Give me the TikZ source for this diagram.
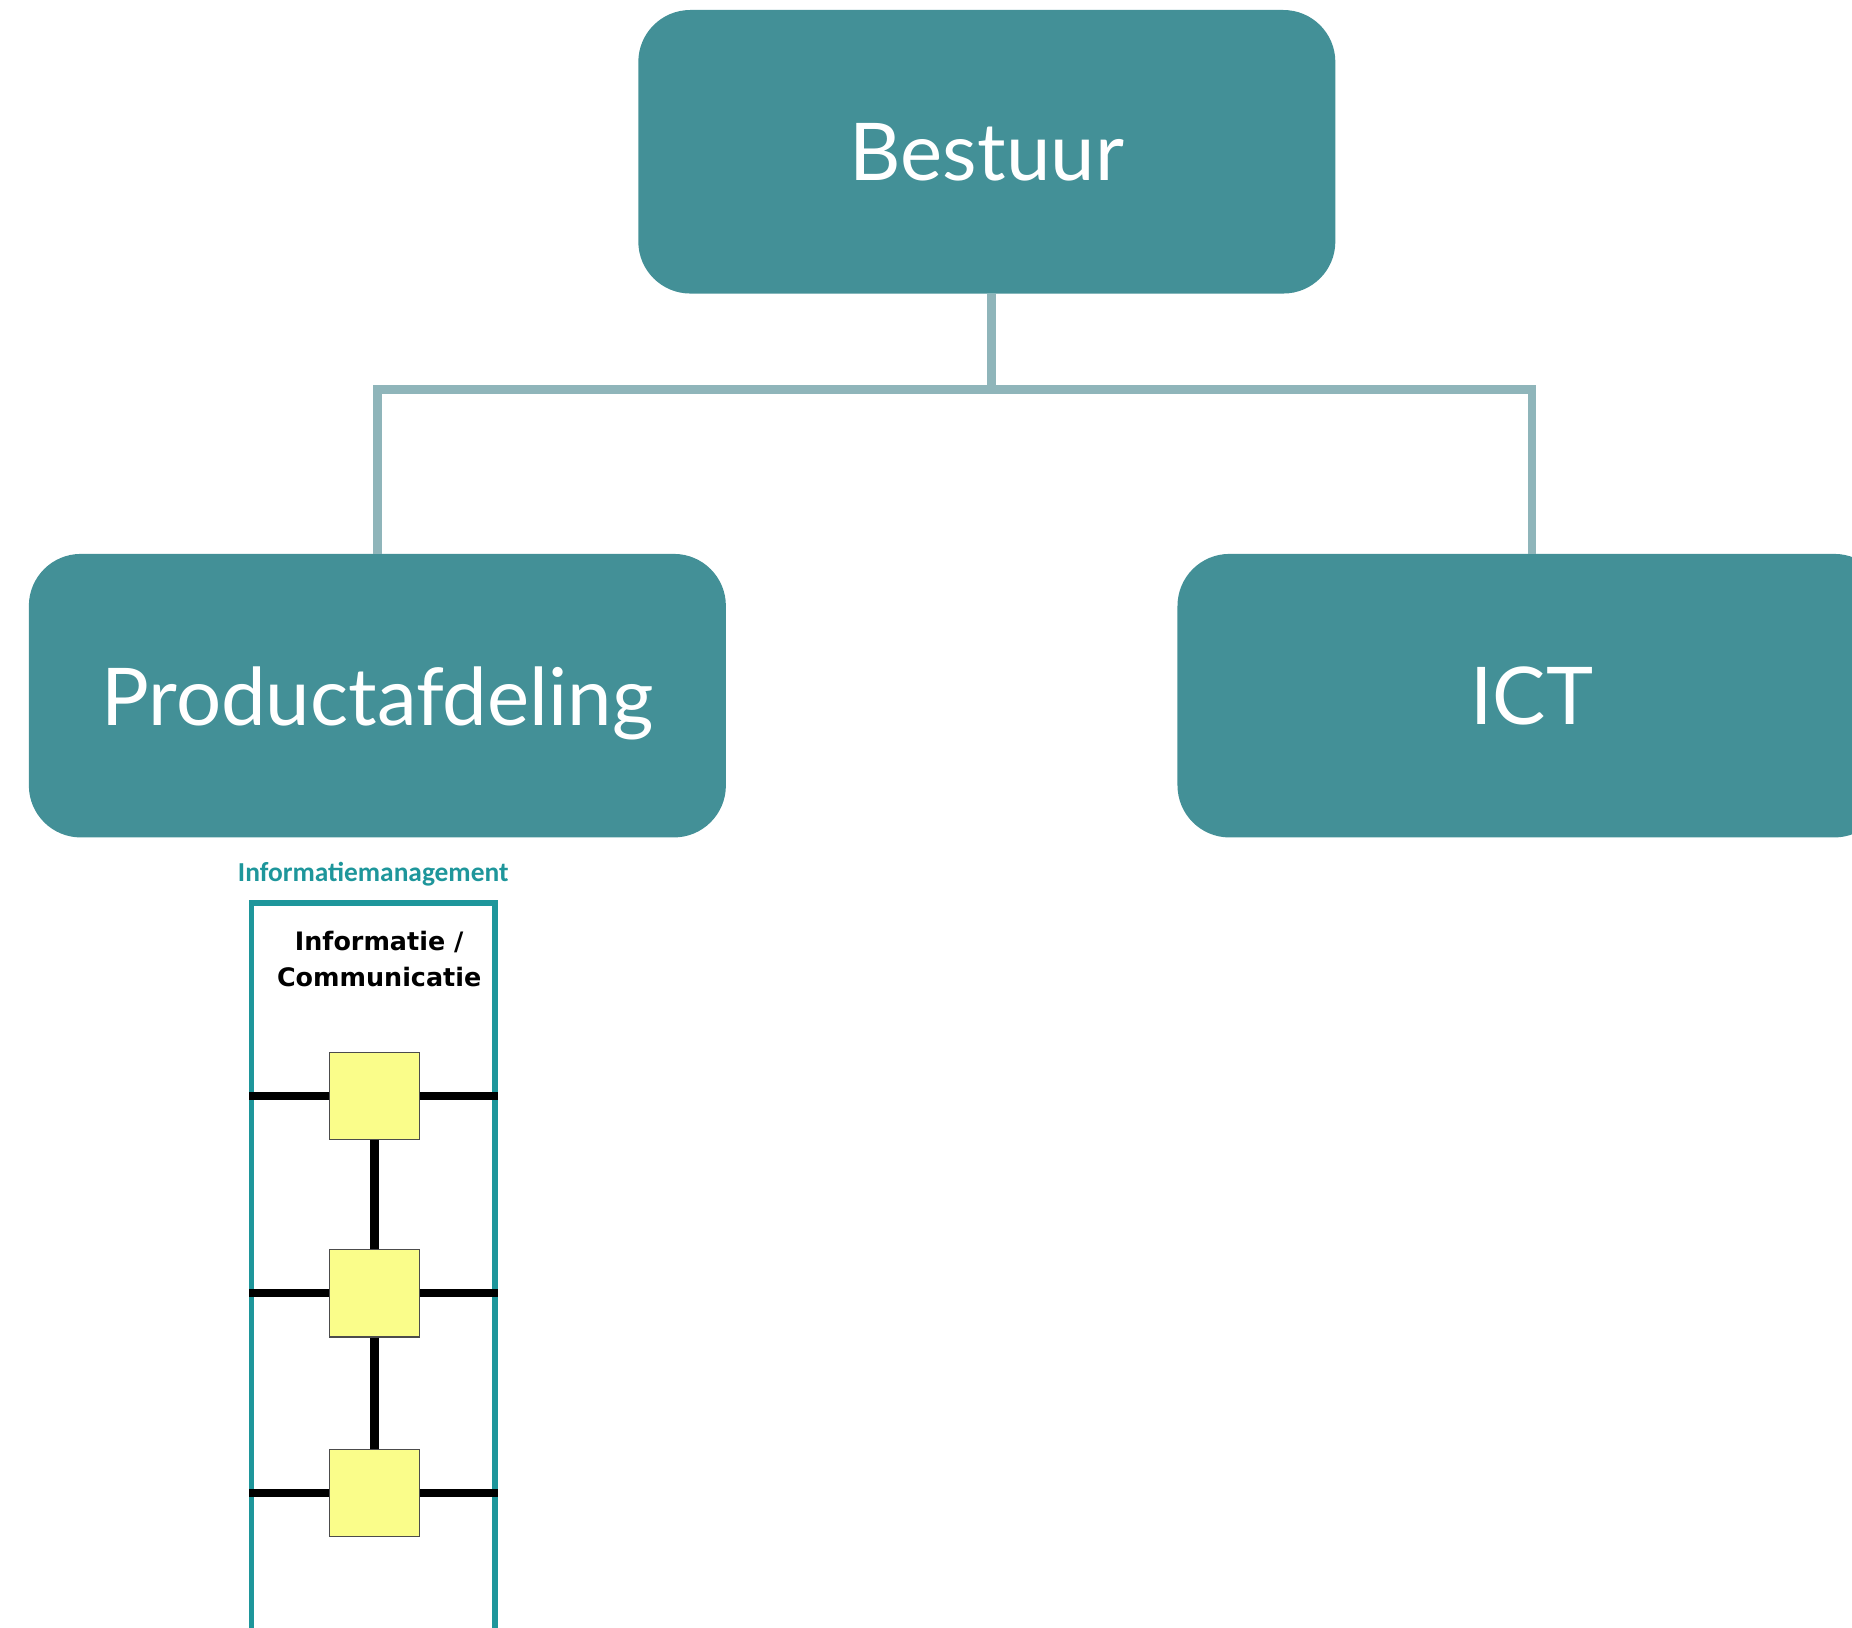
\documentclass[tikz,border=0pt]{standalone}
\usepackage{fontspec}
\setmainfont{Lato}
\newfontfamily\labelfont{Carlito}
\newfontfamily\colfont{DejaVu Sans}
\definecolor{boxteal}{RGB}{67,144,151}
\definecolor{linkgrey}{RGB}{143,181,186}
\definecolor{frameteal}{RGB}{30,150,155}
\definecolor{blockyellow}{RGB}{250,253,138}

\begin{document}
\begin{tikzpicture}[x=0.025cm,y=-0.025cm,
  orgbox/.style={fill=boxteal,text=white,rounded corners=1.1cm,
    minimum width=14.75cm,minimum height=6cm,text depth=0pt,
    font=\fontsize{48}{56}\selectfont},
  link/.style={linkgrey,line width=5pt},
  column/.style={draw=frameteal,line width=3.5pt,minimum width=5.15cm,
    minimum height=16.5cm,anchor=north},
  block/.style={draw=black!70,fill=blockyellow,line width=0.8pt,
    minimum width=1.9cm,minimum height=1.85cm,inner sep=0pt},
  bus/.style={black,line width=5pt}]

\useasboundingbox (0,0) rectangle (1568,1378);

\begin{scope}
\clip (0,0) rectangle (1568,1378);

\node[orgbox] (bestuur) at (835.5,128.5) {Bestuur};
\node[orgbox] (prod) at (319.5,589) {Productafdeling};
\node[orgbox,minimum width=15cm] (ict) at (1297,589) {ICT};

\draw[link] ([xshift=0.1cm]bestuur.south) -- ++(0,81) coordinate (split);
\draw[link] (prod.north) |- (split) -| (ict.north);

\node[text=frameteal,font=\labelfont\bfseries\fontsize{16.5}{19}\selectfont] (infolabel) at (316,740) {Informatiemanagement};
\node[column] (col) at (316,762) {};
\node[font=\colfont\bfseries\fontsize{15.3}{21.5}\selectfont,align=center] (coltitle) at (321,812) {Informatie /\\Communicatie};

\foreach \i/\y in {1/928,2/1095,3/1264}
  \node[block] (sq\i) at (317,\y) {};

\foreach \i in {1,2,3} {
  \draw[bus] (sq\i.west) -- (col.west |- sq\i.west);
  \draw[bus] (sq\i.east) -- (col.east |- sq\i.east);
}
\draw[bus] (sq1.south) -- (sq2.north);
\draw[bus] (sq2.south) -- (sq3.north);

\end{scope}

\end{tikzpicture}
\end{document}
